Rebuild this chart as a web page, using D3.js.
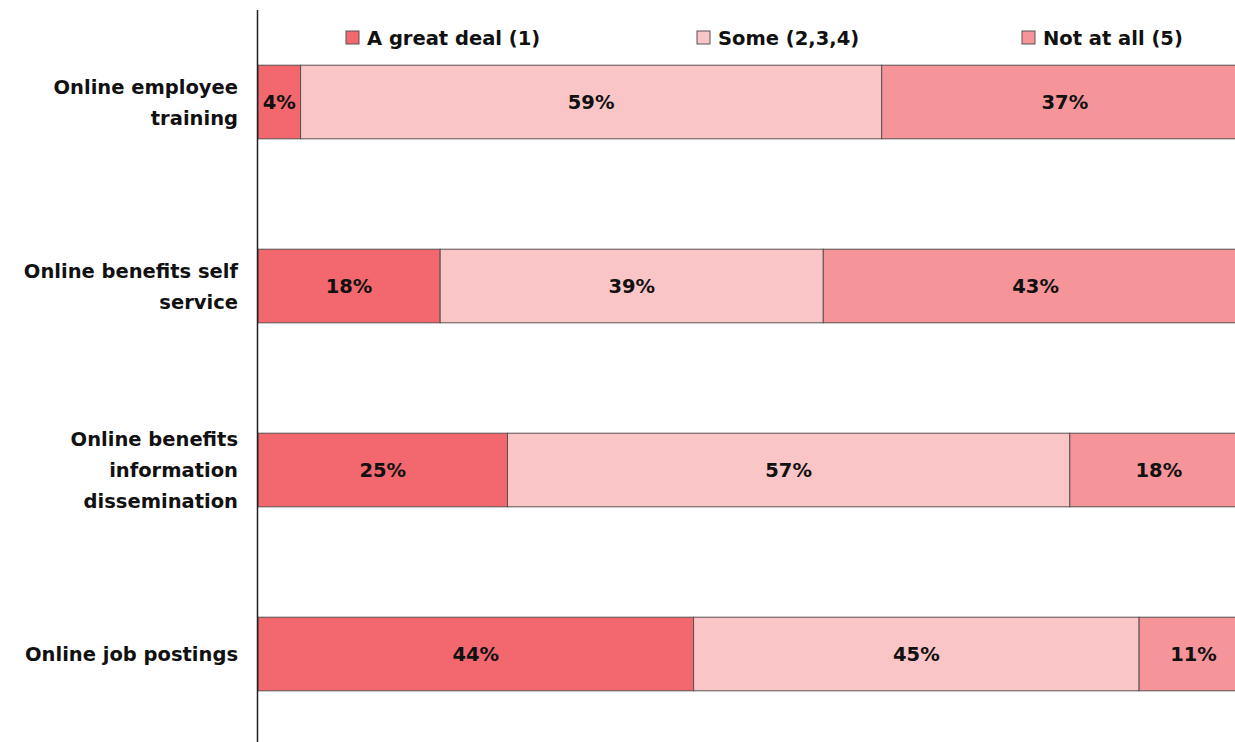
<!DOCTYPE html>
<html><head><meta charset="utf-8">
<script src="https://cdn.jsdelivr.net/npm/d3@7"></script>
<style>body{margin:0;background:#fff}svg text{font-family:"DejaVu Sans",sans-serif;font-weight:bold;fill:#111}</style>
</head><body><svg id="c" width="1235" height="742"></svg>
<script>
const categories = ["Online employee training","Online benefits self service","Online benefits information dissemination","Online job postings"];
const categoryLines = [["Online employee","training"],["Online benefits self","service"],["Online benefits","information","dissemination"],["Online job postings"]];
const seriesNames = ["A great deal (1)","Some (2,3,4)","Not at all (5)"];
const greatDeal = [4.3, 18.4, 25.2, 44];
const some = [58.7, 38.7, 56.8, 45];
const notAtAll = [37, 42.9, 18, 11];
const colors = ["#F2686E","#F9C5C7","#F5959A"];

const svg = d3.select("#c");
const x0 = 258, fullW = 990;
const x = d3.scaleLinear().domain([0,100]).range([x0, x0+fullW]);
const y = d3.scaleBand().domain(categories).range([10, 746]).paddingInner(0.6).paddingOuter(0.3);

const data = categories.map((c,i)=>({cat:c, v:[greatDeal[i], some[i], notAtAll[i]]}));
data.forEach((d,i)=>{
  let acc=0;
  d.v.forEach((val,j)=>{
    const g = svg.append("g");
    g.append("rect").attr("x", x(acc)).attr("y", y(d.cat)).attr("width", x(acc+val)-x(acc)).attr("height", y.bandwidth())
      .attr("fill", colors[j]).attr("stroke","#5a5050").attr("stroke-width",1);
    g.append("text").attr("x", (x(acc)+x(acc+val))/2).attr("y", y(d.cat)+y.bandwidth()/2).attr("dy","0.36em")
      .attr("text-anchor","middle").attr("font-size",19.5).text(Math.round(val)+"%");
    acc+=val;
  });
  const lines = categoryLines[i];
  const cy = y(d.cat)+y.bandwidth()/2;
  const lh = 31;
  lines.forEach((ln,k)=>{
    svg.append("text").attr("x",238).attr("y", cy + (k-(lines.length-1)/2)*lh).attr("dy","0.36em")
      .attr("text-anchor","end").attr("font-size",19.5).text(ln);
  });
});

svg.append("line").attr("x1",x0-0.5).attr("x2",x0-0.5).attr("y1",10).attr("y2",742).attr("stroke","#222").attr("stroke-width",1.5);

const legX = [346, 697, 1022];
seriesNames.forEach((n,j)=>{
  svg.append("rect").attr("x",legX[j]).attr("y",31).attr("width",13).attr("height",13).attr("fill",colors[j]).attr("stroke","#555");
  svg.append("text").attr("x",legX[j]+21).attr("y",38).attr("dy","0.36em").attr("font-size",19.5).text(n);
});
</script></body></html>
